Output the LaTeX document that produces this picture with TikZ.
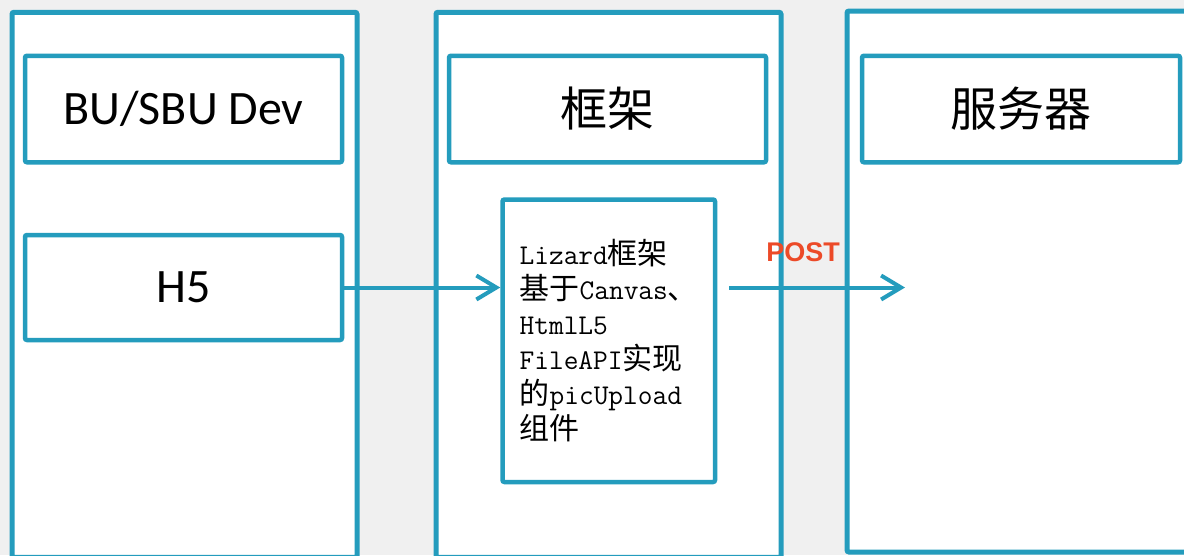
\documentclass[tikz,border=0pt]{standalone}
\usepackage{fontspec}
\setmainfont{Carlito}
\newfontfamily\zhfont{Noto Sans CJK SC}
\newfontfamily\postfont{Liberation Sans}
\newcommand\boxmono{\ttfamily\fontsize{28.6}{35}\selectfont}
\usetikzlibrary{arrows.meta}
\definecolor{laneblue}{HTML}{249CBD}
\definecolor{paper}{HTML}{F0F0F0}
\definecolor{postred}{HTML}{EC4A28}
\tikzset{
	lane/.style={draw=laneblue, line width=5pt, fill=white, rounded corners=2pt},
	box/.style={draw=laneblue, line width=4.5pt, fill=white, rounded corners=2pt, inner sep=0pt},
	flow/.style={laneblue, line width=4pt, -{Straight Barb[length=20pt,width=24pt]}}
}
\begin{document}
\begin{tikzpicture}[x=1pt,y=-1pt]
		\fill[paper] (0,0) rectangle (1184,555);
		\useasboundingbox (0,0) rectangle (1184,555);
		
		\node[lane, minimum width=345pt, minimum height=545pt] (devlane) at (184.5,284.75) {};
		\node[lane, minimum width=345pt, minimum height=545pt] (framelane) at (608.5,284.75) {};
		\node[lane, minimum width=349pt, minimum height=541pt] (serverlane) at (1021.5,281.5) {};
		
		\node[box, minimum width=317pt, minimum height=106.5pt, font=\fontsize{48}{52}\selectfont] (dev) at (183.5,109) {BU/SBU Dev};
		\node[box, minimum width=317pt, minimum height=106.5pt, font=\zhfont\fontsize{47}{50}\selectfont] (frame) at (607.5,109) {框架};
		\node[box, minimum width=318pt, minimum height=106.5pt, font=\zhfont\fontsize{47}{50}\selectfont] (server) at (1021,109) {服务器};
		
		\node[box, minimum width=317pt, minimum height=105pt, font=\fontsize{48}{52}\selectfont] (h5) at (183.5,287.5) {H5};
		\node[box, minimum width=212.5pt, minimum height=282.5pt, align=left, font=\fontsize{30}{35}\selectfont] (lizard) at (608.75,340.75)
			{{\boxmono Lizard}{\zhfont 框架}\\
			{\zhfont 基于}{\boxmono Canvas}{\zhfont 、}\\
			{\boxmono HtmlL5}\\
			{\boxmono FileAPI}{\zhfont 实现}\\
			{\zhfont 的}{\boxmono picUpload}\\
			{\zhfont 组件}};
		
		\node[text=postred, font=\postfont\bfseries\fontsize{27}{27}\selectfont] (post) at (803,252) {POST};
		\coordinate (upload) at (905,287.5);
		
		\draw[flow] (h5.east) -- (h5.east -| lizard.west);
		\draw[flow, shorten <=12pt] (lizard.east |- upload) -- (upload);
		
	\end{tikzpicture}
\end{document}
